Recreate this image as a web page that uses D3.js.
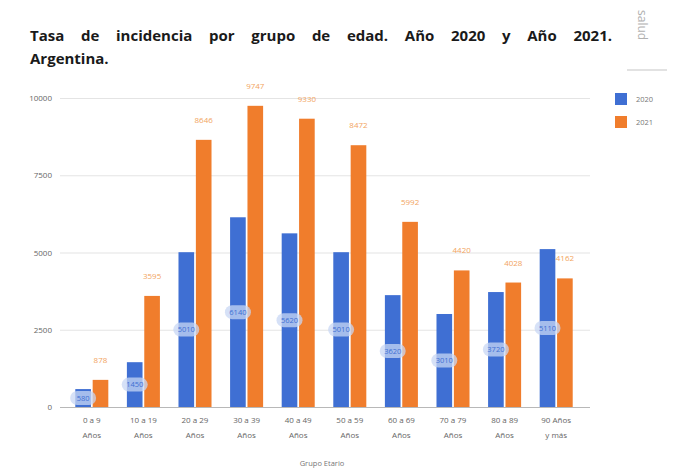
<!DOCTYPE html>
<html><head><meta charset="utf-8">
<script src="https://cdn.jsdelivr.net/npm/d3@7/dist/d3.min.js"></script>
<style>
body{margin:0;background:#fff;}
svg{display:block;}
</style></head>
<body>
<script>
const categories = [["0 a 9","Años"],["10 a 19","Años"],["20 a 29","Años"],["30 a 39","Años"],["40 a 49","Años"],["50 a 59","Años"],["60 a 69","Años"],["70 a 79","Años"],["80 a 89","Años"],["90 Años","y más"]];
const seriesNames = ["2020","2021"];
const values2020 = [580, 1450, 5010, 6140, 5620, 5010, 3620, 3010, 3720, 5110];
const values2021 = [878, 3595, 8646, 9747, 9330, 8472, 5992, 4420, 4028, 4162];
const yTicks = [0, 2500, 5000, 7500, 10000];
const colors = ["#3f6fd3", "#f07d2c"];
const titleLine1 = "Tasa de incidencia por grupo de edad. Año 2020 y Año 2021.";
const titleLine2 = "Argentina.";

const W = 673, H = 472;
const svg = d3.select("body").append("svg").attr("width", W).attr("height", H);

// title (justified by words)
const font = "'Open Sans', 'Liberation Sans', sans-serif";
const tg = svg.append("g").attr("font-family", font).attr("font-weight", 700)
  .attr("font-size", 15).attr("fill", "#1a1a1a");
const words = titleLine1.split(" ");
const wt = words.map(w => tg.append("text").attr("y", 41).text(w));
const widths = wt.map(t => t.node().getComputedTextLength());
const total = d3.sum(widths);
const gap = (612 - 30 - total) / (words.length - 1);
let cx = 30;
wt.forEach((t, i) => { t.attr("x", cx); cx += widths[i] + gap; });
tg.append("text").attr("x", 30).attr("y", 64).text(titleLine2);

// logo fragment
svg.append("text").attr("transform", "translate(638,10) rotate(90)")
  .attr("font-family", font).attr("font-size", 12).attr("fill", "#b0b0b0").text("salud");
svg.append("line").attr("x1", 627).attr("x2", 667).attr("y1", 70).attr("y2", 70)
  .attr("stroke", "#d8d8d8").attr("stroke-width", 1.5);

const x0 = d3.scaleBand().domain(d3.range(categories.length)).range([66, 582]).paddingInner(0.36).paddingOuter(0.18);
const x1 = d3.scaleBand().domain(seriesNames).range([0, x0.bandwidth()]).paddingInner(0.1);
const y = d3.scaleLinear().domain([0, 10000]).range([407, 98]);

// grid
const yAxis = d3.axisLeft(y).tickValues(yTicks).tickSize(-530).tickFormat(d3.format("d"));
const ga = svg.append("g").attr("transform", "translate(60,0)").call(yAxis);
ga.select(".domain").remove();
ga.selectAll(".tick line").attr("stroke", "#e4e4e4").attr("stroke-width", 1.2);
ga.selectAll(".tick text").attr("x", -8).attr("fill", "#666").attr("font-size", 8).attr("font-family", font);
ga.selectAll(".tick").filter(d => d === 0).select("line").attr("stroke", "#b8b8b8");

const groups = svg.append("g").selectAll("g").data(categories.map((c, i) => i)).join("g")
  .attr("transform", i => `translate(${x0(i)},0)`);

const vals = [values2020, values2021];
seriesNames.forEach((s, si) => {
  groups.append("rect")
    .attr("x", x1(s)).attr("width", x1.bandwidth())
    .attr("y", i => y(vals[si][i])).attr("height", i => y(0) - y(vals[si][i]))
    .attr("fill", colors[si]);
});

// orange labels
groups.append("text")
  .attr("x", x1("2021") + x1.bandwidth() / 2)
  .attr("y", i => y(values2021[i]) - 17)
  .attr("text-anchor", "middle").attr("font-size", 8).attr("font-family", font)
  .attr("fill", "#f2a460").text(i => values2021[i]);

// blue labels (pills in middle of bar)
const bl = groups.append("g")
  .attr("transform", i => `translate(${x1("2020") + x1.bandwidth() / 2},${(y(values2020[i]) + y(0)) / 2})`);
bl.append("rect").attr("x", -13).attr("y", -7).attr("width", 26).attr("height", 14).attr("rx", 7)
  .attr("fill", "#c8d7f4").attr("opacity", 0.75);
bl.append("text").attr("text-anchor", "middle").attr("dy", "0.35em")
  .attr("font-size", 7.5).attr("font-family", font).attr("fill", "#3f6fd3")
  .text(i => values2020[i]);

// x labels
const xl = svg.append("g");
categories.forEach((c, i) => {
  const cxx = x0(i) + x0.bandwidth() / 2;
  c.forEach((line, li) => {
    xl.append("text").attr("x", cxx).attr("y", 423 + li * 15)
      .attr("text-anchor", "middle").attr("font-size", 8).attr("font-family", font)
      .attr("fill", "#666").text(line);
  });
});
svg.append("text").attr("x", 322).attr("y", 466).attr("text-anchor", "middle")
  .attr("font-size", 7.5).attr("font-family", font).attr("fill", "#777").text("Grupo Etario");

// legend
const lg = svg.append("g").attr("transform", "translate(615,93)");
seriesNames.forEach((s, i) => {
  lg.append("rect").attr("x", 0).attr("y", i * 23).attr("width", 12).attr("height", 12).attr("fill", colors[i]);
  lg.append("text").attr("x", 21).attr("y", i * 23 + 9).attr("font-size", 7.5).attr("font-family", font)
    .attr("fill", "#777").text(s);
});
</script>
</body></html>
